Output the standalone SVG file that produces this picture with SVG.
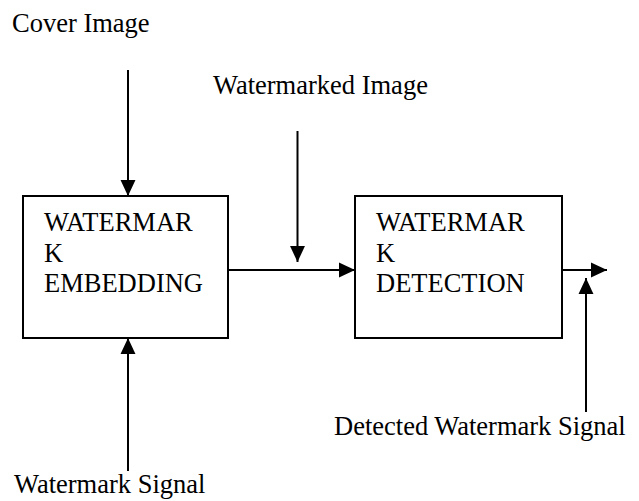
<svg xmlns="http://www.w3.org/2000/svg" width="639" height="501" viewBox="0 0 639 501">
  <defs>
    <marker id="arrow" markerUnits="userSpaceOnUse" markerWidth="16" markerHeight="16" viewBox="0 0 15 14" refX="15" refY="7" orient="auto">
      <path d="M0,0 L15,7 L0,14 Z" fill="#000"/>
    </marker>
    <style>
      .box { fill: #fff; stroke: #000; stroke-width: 2; }
      .link { stroke: #000; stroke-width: 2; fill: none; marker-end: url(#arrow); }
      .lbl { font-family: "Liberation Serif", "Times New Roman", serif; font-size: 26.5px; fill: #000; }
    </style>
  </defs>
  <rect width="639" height="501" fill="#fff"/>

  <!-- connectors -->
  <g id="connectors">
    <line class="link" x1="128" y1="70" x2="128" y2="196"/>
    <line class="link" x1="297.5" y1="131" x2="297.5" y2="262"/>
    <line class="link" x1="228" y1="270" x2="355" y2="270"/>
    <line class="link" x1="562" y1="270" x2="607" y2="270"/>
    <line class="link" x1="128" y1="471" x2="128" y2="338"/>
    <line class="link" x1="586" y1="412" x2="586" y2="278"/>
  </g>

  <!-- free labels -->
  <g id="labels">
    <text class="lbl" x="12" y="32">Cover Image</text>
    <text class="lbl" x="213" y="94">Watermarked Image</text>
    <text class="lbl" x="334" y="435">Detected Watermark Signal</text>
    <text class="lbl" x="14" y="493">Watermark Signal</text>
  </g>

  <g id="embedding">
    <rect class="box" x="23" y="196" width="205" height="142"/>
    <text class="lbl" x="44" y="231">WATERMAR</text>
    <text class="lbl" x="44" y="262">K</text>
    <text class="lbl" x="44" y="292">EMBEDDING</text>
  </g>

  <g id="detection">
    <rect class="box" x="355" y="196" width="207" height="142"/>
    <text class="lbl" x="376" y="231">WATERMAR</text>
    <text class="lbl" x="376" y="262">K</text>
    <text class="lbl" x="376" y="292">DETECTION</text>
  </g>
</svg>
